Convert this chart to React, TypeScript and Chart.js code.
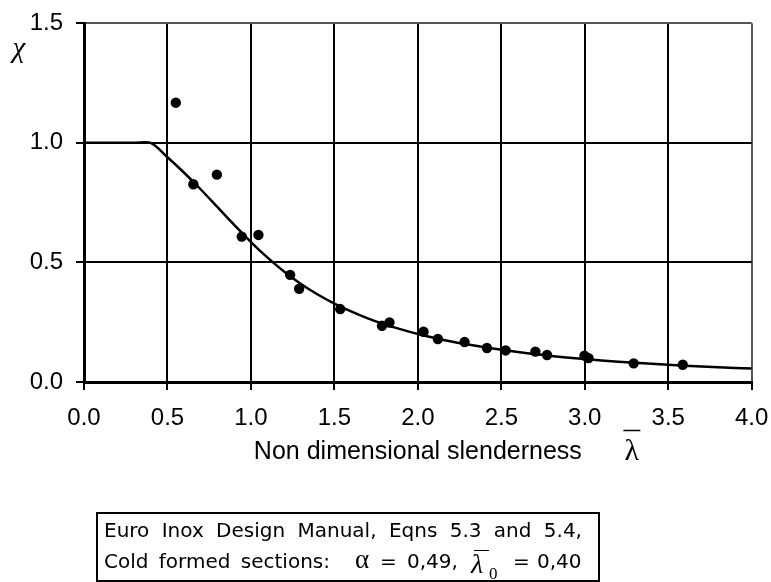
import React, { useEffect, useRef } from "react";
import { Chart, registerables } from "chart.js";

Chart.register(...registerables);

// Design curve
const curveLambda = [0, 0.1, 0.2, 0.3, 0.4, 0.5, 0.6, 0.7, 0.8, 0.9, 1.0, 1.1, 1.2, 1.3, 1.4, 1.5, 1.6, 1.7, 1.8, 1.9, 2.0, 2.2, 2.4, 2.6, 2.8, 3.0, 3.2, 3.4, 3.6, 3.8, 4.0];
const curveChi = [1, 1, 1, 1, 1, 0.94, 0.875, 0.805, 0.731, 0.657, 0.585, 0.52, 0.461, 0.41, 0.366, 0.328, 0.295, 0.266, 0.241, 0.22, 0.201, 0.169, 0.145, 0.125, 0.109, 0.096, 0.085, 0.076, 0.068, 0.062, 0.056];

// Test results
const testLambda = [0.55, 0.655, 0.796, 0.945, 1.045, 1.235, 1.289, 1.535, 1.785, 1.83, 2.034, 2.12, 2.28, 2.414, 2.526, 2.704, 2.774, 2.998, 3.023, 3.293, 3.587];
const testChi = [1.168, 0.827, 0.867, 0.608, 0.615, 0.448, 0.39, 0.305, 0.235, 0.249, 0.21, 0.18, 0.167, 0.142, 0.132, 0.127, 0.113, 0.11, 0.1, 0.078, 0.072];

const xTickValues = [0, 0.5, 1, 1.5, 2, 2.5, 3, 3.5, 4];
const yTickValues = [0, 0.5, 1, 1.5];

const xTitle = "Non dimensional slenderness";
const yLabel = "\u03C7";
const lambdaSym = "\u03BB";

const SANS = '"Liberation Sans", Arial, sans-serif';
const SERIF = '"Liberation Serif", "Times New Roman", serif';
const BOX_FONT = '"DejaVu Sans", Verdana, sans-serif';

const extraText = {
  id: "extraText",
  afterDraw(chart: any) {
    const { ctx, chartArea } = chart;
    ctx.save();
    ctx.fillStyle = "#000";
    ctx.strokeStyle = "#000";
    ctx.textAlign = "center";
    ctx.textBaseline = "alphabetic";
    // chi label
    ctx.font = `italic 29px ${SERIF}`;
    ctx.fillText(yLabel, chartArea.left - 65, chartArea.top + 34);
    // lambda bar next to the axis title
    const lx = (chartArea.left + chartArea.right) / 2 + 214;
    ctx.font = `30px ${SERIF}`;
    ctx.fillText(lambdaSym, lx, chartArea.bottom + 78);
    ctx.lineWidth = 1.5;
    ctx.beginPath();
    ctx.moveTo(lx - 8.5, chartArea.bottom + 48.5);
    ctx.lineTo(lx + 8.5, chartArea.bottom + 48.5);
    ctx.stroke();
    ctx.restore();
  },
};

const abs = (left: number, top: number, extra: any = {}) => ({
  position: "absolute" as const,
  left,
  top,
  lineHeight: "20px",
  whiteSpace: "nowrap" as const,
  ...extra,
});

export default function App() {
  const canvasRef = useRef<HTMLCanvasElement | null>(null);

  useEffect(() => {
    const canvas = canvasRef.current;
    if (!canvas) return;
    const curve = curveLambda.map((x, i) => ({ x, y: curveChi[i] }));
    const tests = testLambda.map((x, i) => ({ x, y: testChi[i] }));
    const chart = new Chart(canvas, {
      type: "scatter",
      data: {
        datasets: [
          {
            label: "Design curve",
            data: curve,
            showLine: true,
            borderColor: "#000",
            borderWidth: 2.5,
            pointRadius: 0,
            tension: 0.3,
            fill: false,
          },
          {
            label: "Tests",
            data: tests,
            showLine: false,
            pointRadius: 5.2,
            pointBackgroundColor: "#000",
            pointBorderColor: "#000",
            pointBorderWidth: 0,
          },
        ],
      },
      options: {
        responsive: false,
        animation: false,
        devicePixelRatio: 1,
        layout: { padding: { top: 23.3, right: 19.3, left: 0, bottom: 0 } },
        plugins: { legend: { display: false }, tooltip: { enabled: false } },
        scales: {
          x: {
            type: "linear",
            min: 0,
            max: 4,
            afterBuildTicks: (s: any) => {
              s.ticks = xTickValues.map((v) => ({ value: v }));
            },
            ticks: {
              padding: 14,
              color: "#000",
              font: { family: SANS, size: 24 },
              maxRotation: 0,
              autoSkip: false,
              callback: (v: any) => Number(v).toFixed(1),
            },
            grid: {
              color: (c: any) => (c.tick && c.tick.value === 4 ? "#555" : "#000"),
              tickColor: "#000",
              lineWidth: 2,
              tickLength: 8,
              drawTicks: true,
            },
            border: { display: true, color: "#000", width: 3 },
            title: {
              display: true,
              text: xTitle,
              color: "#000",
              font: { family: SANS, size: 25 },
              padding: { top: 0, bottom: 115 },
            },
            afterFit: (s: any) => {
              s.height = 200;
              s.paddingLeft = 0;
              s.paddingRight = 0;
            },
          },
          y: {
            type: "linear",
            min: 0,
            max: 1.5,
            afterBuildTicks: (s: any) => {
              s.ticks = yTickValues.map((v) => ({ value: v }));
            },
            ticks: {
              padding: 13,
              color: "#000",
              font: { family: SANS, size: 24 },
              callback: (v: any) => Number(v).toFixed(1),
            },
            grid: {
              color: (c: any) => (c.tick && c.tick.value === 1.5 ? "#555" : "#000"),
              tickColor: "#000",
              lineWidth: 2,
              tickLength: 8,
              drawTicks: true,
            },
            border: { display: true, color: "#000", width: 3 },
            afterFit: (s: any) => {
              s.width = 84;
              s.paddingTop = 0;
              s.paddingBottom = 0;
            },
          },
        },
      },
      plugins: [extraText],
    });
    return () => chart.destroy();
  }, []);

  const sans = { fontFamily: BOX_FONT, fontSize: 20, color: "#000" };

  return (
    <div style={{ position: "absolute", left: 0, top: 0, width: 771, height: 582, background: "#fff" }}>
      <canvas ref={canvasRef} width={771} height={582} style={{ display: "block", width: 771, height: 582 }} />
      <div
        style={{
          position: "absolute",
          left: 96,
          top: 512,
          width: 504,
          height: 70,
          boxSizing: "border-box",
          border: "2px solid #000",
        }}
      />
      <div style={abs(104, 520, { ...sans, wordSpacing: "6px" })}>Euro Inox Design Manual, Eqns 5.3 and 5.4,</div>
      <div style={abs(104, 551, { ...sans, wordSpacing: "4px" })}>Cold formed sections:</div>
      <div style={abs(355, 549, { fontFamily: SERIF, fontSize: 27, color: "#000" })}>α</div>
      <div style={abs(380, 551, sans)}>=</div>
      <div style={abs(407, 551, sans)}>0,49,</div>
      <div style={abs(471, 554, { fontFamily: SERIF, fontStyle: "italic", fontSize: 28, color: "#000" })}>λ</div>
      <div style={{ position: "absolute", left: 474, top: 550, width: 15, height: 0, borderTop: "1.5px solid #000" }} />
      <div style={abs(489, 565, { fontFamily: SERIF, fontSize: 17, color: "#000", lineHeight: "17px" })}>0</div>
      <div style={abs(513, 551, sans)}>=</div>
      <div style={abs(537, 551, sans)}>0,40</div>
    </div>
  );
}
